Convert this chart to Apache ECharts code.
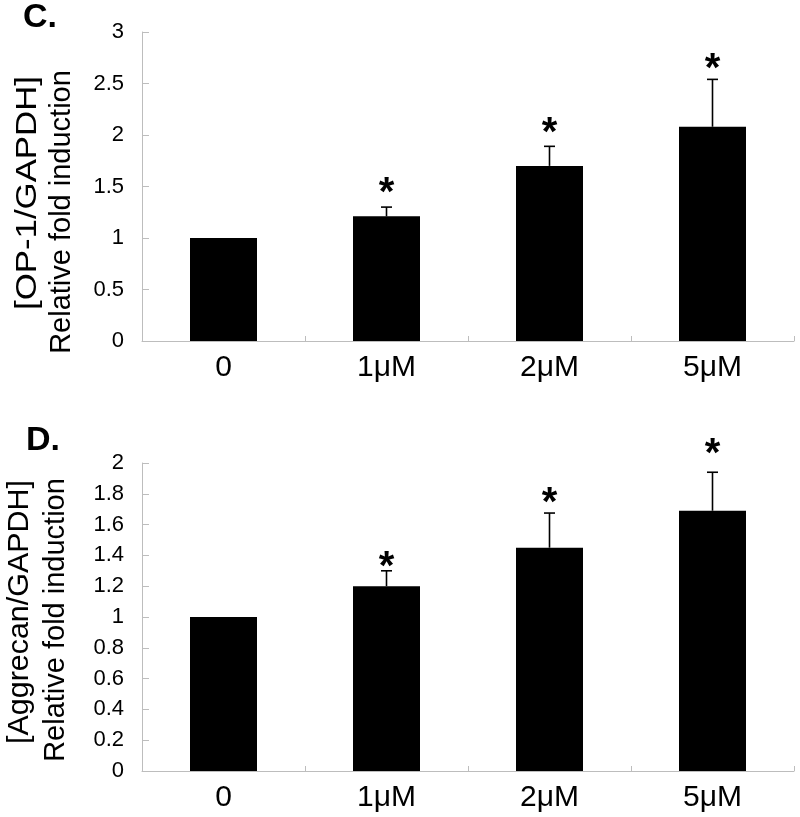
<!DOCTYPE html>
<html>
<head>
<meta charset="utf-8">
<script src="https://cdn.jsdelivr.net/npm/echarts@6/dist/echarts.min.js"></script>
<style>
html,body{margin:0;padding:0;background:#fff;}
#chart{width:800px;height:817px;}
</style>
</head>
<body>
<div id="chart"></div>
<script>
// ---- data ----
var categories = ['0', '1\u03bcM', '2\u03bcM', '5\u03bcM'];
var opValues = [1.0, 1.21, 1.70, 2.08];
var opErrors = [0, 0.09, 0.19, 0.46];
var opStarLevels = [null, 1.50, 2.08, 2.70];
var aggValues = [1.0, 1.20, 1.45, 1.69];
var aggErrors = [0, 0.10, 0.225, 0.25];
var aggStarLevels = [null, 1.365, 1.78, 2.10];
var opTicks = [0, 3, 0.5];
var aggTicks = [0, 2, 0.2];

var FONT = '"Liberation Sans", Arial, sans-serif';
var AXIS_GRAY = '#bdbdbd';

function errData(vals, errs, stars) {
  return vals.map(function (v, i) { return [i, v, v + errs[i], stars[i] == null ? -1 : stars[i]]; });
}

function errRender(params, api) {
  var i = api.value(0);
  var base = api.coord([i, api.value(1)]);
  var top = api.coord([i, api.value(2)]);
  var children = [];
  if (api.value(2) > api.value(1)) {
    children.push({ type: 'line', shape: { x1: base[0], y1: base[1], x2: top[0], y2: top[1] },
      style: { stroke: '#000', lineWidth: 1.6 } });
    children.push({ type: 'line', shape: { x1: top[0] - 5.5, y1: top[1], x2: top[0] + 5.5, y2: top[1] },
      style: { stroke: '#000', lineWidth: 1.6 } });
  }
  if (api.value(3) >= 0) {
    var s = api.coord([i, api.value(3)]);
    // asterisk glyph sits high in its em box; offset so the glyph centre is at the star level
    children.push({ type: 'text', x: s[0], y: s[1] + 27,
      style: { text: '*', fontSize: 40, fontWeight: 'bold', fontFamily: FONT, fill: '#000',
        align: 'center', verticalAlign: 'bottom' } });
  }
  return { type: 'group', children: children };
}

function xAxisDef(gi) {
  return {
    type: 'category', gridIndex: gi, data: categories,
    axisLine: { lineStyle: { color: AXIS_GRAY, width: 1 } },
    axisTick: { show: true, inside: true, length: 5, lineStyle: { color: AXIS_GRAY } },
    axisLabel: { color: '#000', fontSize: 30, fontFamily: FONT, margin: 12 }
  };
}
function yAxisDef(gi, t) {
  return {
    type: 'value', gridIndex: gi, min: t[0], max: t[1], interval: t[2],
    splitLine: { show: false },
    axisLine: { show: true, lineStyle: { color: AXIS_GRAY, width: 1 } },
    axisTick: { show: true, inside: true, length: 7, lineStyle: { color: AXIS_GRAY } },
    axisLabel: { color: '#000', fontSize: 22, fontFamily: FONT, margin: 18 }
  };
}

var chart = echarts.init(document.getElementById('chart'), null, { renderer: 'canvas' });
chart.setOption({
  animation: false,
  backgroundColor: '#fff',
  grid: [
    { left: 142, right: 6, top: 32, height: 309 },
    { left: 142, right: 6, top: 463, height: 308 }
  ],
  xAxis: [xAxisDef(0), xAxisDef(1)],
  yAxis: [yAxisDef(0, opTicks), yAxisDef(1, aggTicks)],
  series: [
    { type: 'bar', xAxisIndex: 0, yAxisIndex: 0, data: opValues, barWidth: 67,
      itemStyle: { color: '#000' } },
    { type: 'custom', xAxisIndex: 0, yAxisIndex: 0, data: errData(opValues, opErrors, opStarLevels),
      renderItem: errRender, encode: { x: 0, y: [1, 2] }, z: 5, clip: false },
    { type: 'bar', xAxisIndex: 1, yAxisIndex: 1, data: aggValues, barWidth: 67,
      itemStyle: { color: '#000' } },
    { type: 'custom', xAxisIndex: 1, yAxisIndex: 1, data: errData(aggValues, aggErrors, aggStarLevels),
      renderItem: errRender, encode: { x: 0, y: [1, 2] }, z: 5, clip: false }
  ],
  graphic: [
    { type: 'text', left: 23, top: 1, style: { text: 'C.', fontSize: 34, fontWeight: 'bold', fontFamily: FONT, fill: '#000' } },
    { type: 'text', left: 26, top: 424, style: { text: 'D.', fontSize: 34, fontWeight: 'bold', fontFamily: FONT, fill: '#000' } },
    { type: 'text', x: 28, y: 193, rotation: Math.PI / 2, scaleX: 1.2,
      style: { text: '[OP-1/GAPDH]', fontSize: 29, fontFamily: FONT, fill: '#000', align: 'center', verticalAlign: 'middle' } },
    { type: 'text', x: 62, y: 212, rotation: Math.PI / 2,
      style: { text: 'Relative fold induction', fontSize: 29, fontFamily: FONT, fill: '#000', align: 'center', verticalAlign: 'middle' } },
    { type: 'text', x: 20, y: 612, rotation: Math.PI / 2, scaleX: 1.05,
      style: { text: '[Aggrecan/GAPDH]', fontSize: 29, fontFamily: FONT, fill: '#000', align: 'center', verticalAlign: 'middle' } },
    { type: 'text', x: 56, y: 620, rotation: Math.PI / 2,
      style: { text: 'Relative fold induction', fontSize: 29, fontFamily: FONT, fill: '#000', align: 'center', verticalAlign: 'middle' } }
  ]
});
</script>
</body>
</html>
